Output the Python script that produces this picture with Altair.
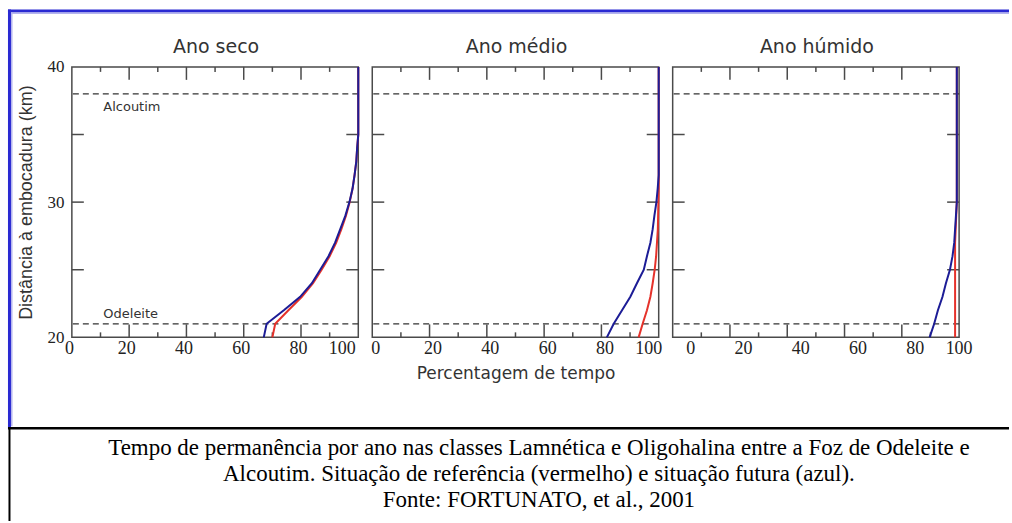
import altair as alt
import pandas as pd

# Panel titles (hydrological year type)
panels = ["Ano seco", "Ano médio", "Ano húmido"]

# Distance from the river mouth (km) at which each curve is sampled
dist = [20, 21, 22, 23, 24, 25, 26, 27, 28, 29, 30, 31, 32, 33, 34, 35, 40]

# Percentage of time in the limnetic/oligohaline classes
# reference situation (red) and future situation (blue)
seco_ref = [70.0, 71.0, 75.6, 80.3, 84.2, 87.2, 90.0, 92.3, 94.1, 95.7, 97.0, 98.0, 98.7, 99.3, 99.6, 100, 100]
seco_fut = [67.0, 68.0, 74.0, 79.7, 83.8, 86.7, 89.6, 91.9, 93.7, 95.5, 96.9, 98.0, 98.7, 99.3, 99.6, 100, 100]

medio_ref = [93.0, 94.4, 95.9, 97.1, 97.9, 98.6, 99.1, 99.4, 99.7, 99.8, 99.9, 100, 100, 100, 100, 100, 100]
medio_fut = [81.9, 84.3, 87.2, 90.1, 92.4, 94.8, 95.9, 97.1, 97.9, 98.5, 99.2, 99.65, 100, 100, 100, 100, 100]

humido_ref = [98.6, 98.6, 98.6, 98.6, 98.6, 98.6, 98.6, 98.6, 98.8, 99.0, 99.2, 99.2, 99.2, 99.2, 99.2, 99.2, 99.2]
humido_fut = [89.7, 91.3, 92.6, 94.2, 95.4, 96.8, 97.7, 98.3, 98.6, 98.9, 99.2, 99.2, 99.2, 99.2, 99.2, 99.2, 99.2]

series = [(seco_ref, seco_fut), (medio_ref, medio_fut), (humido_ref, humido_fut)]

# Reference locations along the estuary
places = ["Alcoutim", "Odeleite"]
place_km = [38, 21]
place_label_km = [37.0, 21.75]
place_label_pct = [11, 11]

x_labels = [0, 20, 40, 60, 80, 100]
y_labels = [20, 30, 40]
x_major = [20, 40, 60, 80]
x_minor = [10, 30, 50, 70, 90]
y_ticks = [25, 30, 35]

caption = ("Tempo de permanência por ano nas classes Lamnética e Oligohalina entre a Foz de Odeleite e\n"
           "Alcoutim. Situação de referência (vermelho) e situação futura (azul).\n"
           "Fonte: FORTUNATO, et al., 2001")

W, H = 287, 271
RED = "#e5322b"
BLUE = "#1c1c96"
FRAME = "#4a4a4a"
SANS = "DejaVu Sans"
SERIF = "Liberation Serif"

x_scale = alt.Scale(domain=[0, 100], nice=False, zero=False)
y_scale = alt.Scale(domain=[20, 40], nice=False, zero=False)

label_offsets = [-3, 3, 13]


def x_axis_for(i):
    kw = dict(values=x_labels, ticks=False, domain=False, grid=False,
              labelFont=SERIF, labelFontSize=18, labelColor="#222",
              labelPadding=2, labelOffset=label_offsets[i])
    if i < 2:
        kw["labelAlign"] = alt.expr("datum.value == 100 ? 'right' : 'center'")
    if i == 1:
        kw.update(title="Percentagem de tempo", titleFont=SANS,
                  titleFontSize=17, titleFontWeight="normal", titleColor="#333",
                  titlePadding=8)
    else:
        kw["title"] = ""
    return alt.Axis(**kw)


def y_axis_for(i):
    if i != 0:
        return None
    return alt.Axis(values=y_labels, ticks=False, domain=False, grid=False,
                    labelFont=SERIF, labelFontSize=17, labelColor="#222",
                    labelPadding=8, title="Distância à embocadura (km)",
                    titleFont="Liberation Sans", titleFontSize=18, titleFontWeight="normal",
                    titleColor="#333", titlePadding=11)


def build_panel(i):
    ref, fut = series[i]
    df = pd.DataFrame({"d": dist, "ref": ref, "fut": fut})
    xa = x_axis_for(i)
    ya = y_axis_for(i)

    def X(field):
        return alt.X(field, scale=x_scale, axis=xa)

    def Y(field):
        return alt.Y(field, scale=y_scale, axis=ya)

    base = alt.Chart(df)
    red = base.mark_line(color=RED, strokeWidth=2).encode(
        x=X("ref:Q"), y=Y("d:Q"), order=alt.Order("d:Q"))
    blue = base.mark_line(color=BLUE, strokeWidth=2).encode(
        x=X("fut:Q"), y=Y("d:Q"), order=alt.Order("d:Q"))

    pl = pd.DataFrame({"name": places, "km": place_km,
                       "lkm": place_label_km, "lpct": place_label_pct})
    dashes = alt.Chart(pl).mark_rule(color="#333", strokeWidth=1.3, strokeDash=[6, 4]).encode(
        y=Y("km:Q"))

    xt_major = pd.DataFrame({"v": x_major})
    xt_minor = pd.DataFrame({"v": x_minor})
    yt = pd.DataFrame({"d": y_ticks})
    tick_style = dict(color=FRAME, strokeWidth=1.5)
    ticks = [
        alt.Chart(xt_major).mark_rule(**tick_style).encode(x=X("v:Q"), y=alt.value(0), y2=alt.value(13)),
        alt.Chart(xt_major).mark_rule(**tick_style).encode(x=X("v:Q"), y=alt.value(H), y2=alt.value(H - 13)),
        alt.Chart(xt_minor).mark_rule(**tick_style).encode(x=X("v:Q"), y=alt.value(0), y2=alt.value(5)),
        alt.Chart(xt_minor).mark_rule(**tick_style).encode(x=X("v:Q"), y=alt.value(H), y2=alt.value(H - 5)),
        alt.Chart(yt).mark_rule(**tick_style).encode(y=Y("d:Q"), x=alt.value(0), x2=alt.value(12)),
        alt.Chart(yt).mark_rule(**tick_style).encode(y=Y("d:Q"), x=alt.value(W), x2=alt.value(W - 12)),
    ]

    one = alt.Chart(pd.DataFrame({"k": [0]}))
    title = one.mark_text(align="center", baseline="middle", font=SANS,
                          fontSize=19, color="#333").encode(
        x=alt.value(W / 2 + 1), y=alt.value(-20), text=alt.value(panels[i]))

    layers = [dashes] + ticks + [red, blue, title]

    if i == 0:
        names = alt.Chart(pl).mark_text(align="left", baseline="middle", font=SANS,
                                        fontSize=13, color="#333").encode(
            x=X("lpct:Q"), y=Y("lkm:Q"), text="name:N")
        # figure border, separator and caption around the three panels
        deco = [
            one.mark_rule(color="#2a2ad2", strokeWidth=3).encode(
                x=alt.value(-64), x2=alt.value(939), y=alt.value(-56)),
            one.mark_rule(color="#b4b4ee", strokeWidth=1.5).encode(
                x=alt.value(-61), x2=alt.value(939), y=alt.value(-53.8)),
            one.mark_rule(color="#2a2ad2", strokeWidth=3).encode(
                x=alt.value(-62.5), y=alt.value(-57.5), y2=alt.value(361)),
            one.mark_rule(color="#b4b4ee", strokeWidth=1.5).encode(
                x=alt.value(-60.2), y=alt.value(-54.5), y2=alt.value(360)),
            one.mark_rule(color="#000", strokeWidth=2.5).encode(
                x=alt.value(-64), x2=alt.value(939), y=alt.value(362)),
            one.mark_rule(color="#000", strokeWidth=2).encode(
                x=alt.value(-62.5), y=alt.value(362), y2=alt.value(455)),
            one.mark_text(align="center", baseline="top", font=SERIF,
                          fontSize=23, color="#000", lineBreak="\n", lineHeight=26).encode(
                x=alt.value(468), y=alt.value(371), text=alt.value(caption)),
        ]
        layers = layers + [names] + deco

    return alt.layer(*layers).properties(width=W, height=H)


chart = alt.hconcat(*[build_panel(i) for i in range(3)], spacing=14, bounds="flush").properties(
    padding={"left": 5, "top": 6.5, "right": 0, "bottom": 0},
    background="white",
).configure_view(stroke=FRAME, strokeWidth=1.5)

chart.save("out.html", embed_options={"renderer": "svg", "actions": False})
